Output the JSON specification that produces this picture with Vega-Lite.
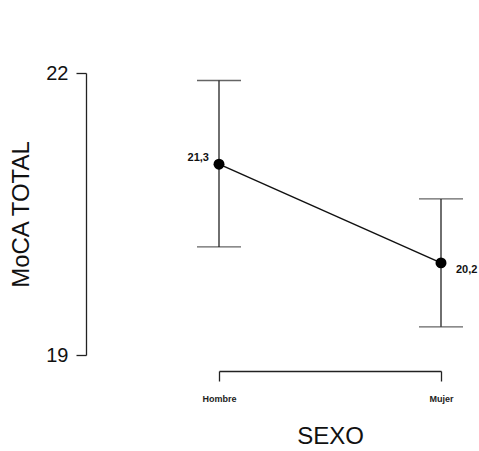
{
  "$schema": "https://vega.github.io/schema/vega-lite/v6.json",
  "autosize": {"type": "none"},
  "padding": {"left": 219, "top": 73, "right": 38, "bottom": 96},
  "width": 222,
  "height": 282,
  "background": "white",
  "config": {"view": {"stroke": null}, "font": "Liberation Sans"},
  "data": {"values": [
    {"sexo": "Hombre", "media": 21.03, "inf": 20.15, "sup": 21.92, "etiqueta": "21,3"},
    {"sexo": "Mujer", "media": 19.98, "inf": 19.30, "sup": 20.66, "etiqueta": "20,2"}
  ]},
  "encoding": {
    "x": {
      "field": "sexo", "type": "nominal",
      "scale": {"type": "point", "padding": 0, "domain": ["Hombre", "Mujer"]},
      "axis": {
        "title": "SEXO", "offset": 16, "grid": false, "labelAngle": 0,
        "domainColor": "#222", "domainWidth": 1.3, "tickColor": "#222", "tickWidth": 1.3, "tickSize": 10,
        "labelFont": "Liberation Sans", "labelFontWeight": "bold", "labelFontSize": 9, "labelColor": "#222",
        "labelPadding": 13, "labelBaseline": "top",
        "titleFont": "Liberation Sans", "titleFontSize": 24, "titleFontWeight": "normal", "titleColor": "#111", "titlePadding": 21
      }
    }
  },
  "layer": [
    {
      "mark": {"type": "rule", "color": "#222", "strokeWidth": 1.3},
      "encoding": {
        "y": {
          "field": "inf", "type": "quantitative",
          "scale": {"domain": [19, 22], "nice": false, "zero": false},
          "axis": {
            "title": "MoCA TOTAL", "offset": 133, "values": [19, 22], "format": "d", "grid": false,
            "domainColor": "#222", "domainWidth": 1.3, "tickColor": "#222", "tickWidth": 1.3, "tickSize": 10,
            "labelFontSize": 20, "labelColor": "#111", "labelPadding": 8,
            "titleFont": "Liberation Sans", "titleFontSize": 24, "titleFontWeight": "normal", "titleColor": "#111", "titlePadding": 12
          }
        },
        "y2": {"field": "sup"}
      }
    },
    {
      "mark": {"type": "tick", "color": "#222", "thickness": 1.3, "size": 44},
      "encoding": {"y": {"field": "inf", "type": "quantitative"}}
    },
    {
      "mark": {"type": "tick", "color": "#222", "thickness": 1.3, "size": 44},
      "encoding": {"y": {"field": "sup", "type": "quantitative"}}
    },
    {
      "mark": {"type": "line", "color": "#111", "strokeWidth": 1.5},
      "encoding": {"y": {"field": "media", "type": "quantitative"}}
    },
    {
      "mark": {"type": "point", "filled": true, "color": "#000", "size": 120, "opacity": 1},
      "encoding": {"y": {"field": "media", "type": "quantitative"}}
    },
    {
      "transform": [{"filter": "datum.sexo === 'Hombre'"}],
      "mark": {"type": "text", "align": "right", "baseline": "middle", "dx": -10, "dy": -6, "fontSize": 11, "fontWeight": "bold", "color": "#111"},
      "encoding": {"y": {"field": "media", "type": "quantitative"}, "text": {"field": "etiqueta"}}
    },
    {
      "transform": [{"filter": "datum.sexo === 'Mujer'"}],
      "mark": {"type": "text", "align": "left", "baseline": "middle", "dx": 15, "dy": 7, "fontSize": 11, "fontWeight": "bold", "color": "#111"},
      "encoding": {"y": {"field": "media", "type": "quantitative"}, "text": {"field": "etiqueta"}}
    }
  ]
}
